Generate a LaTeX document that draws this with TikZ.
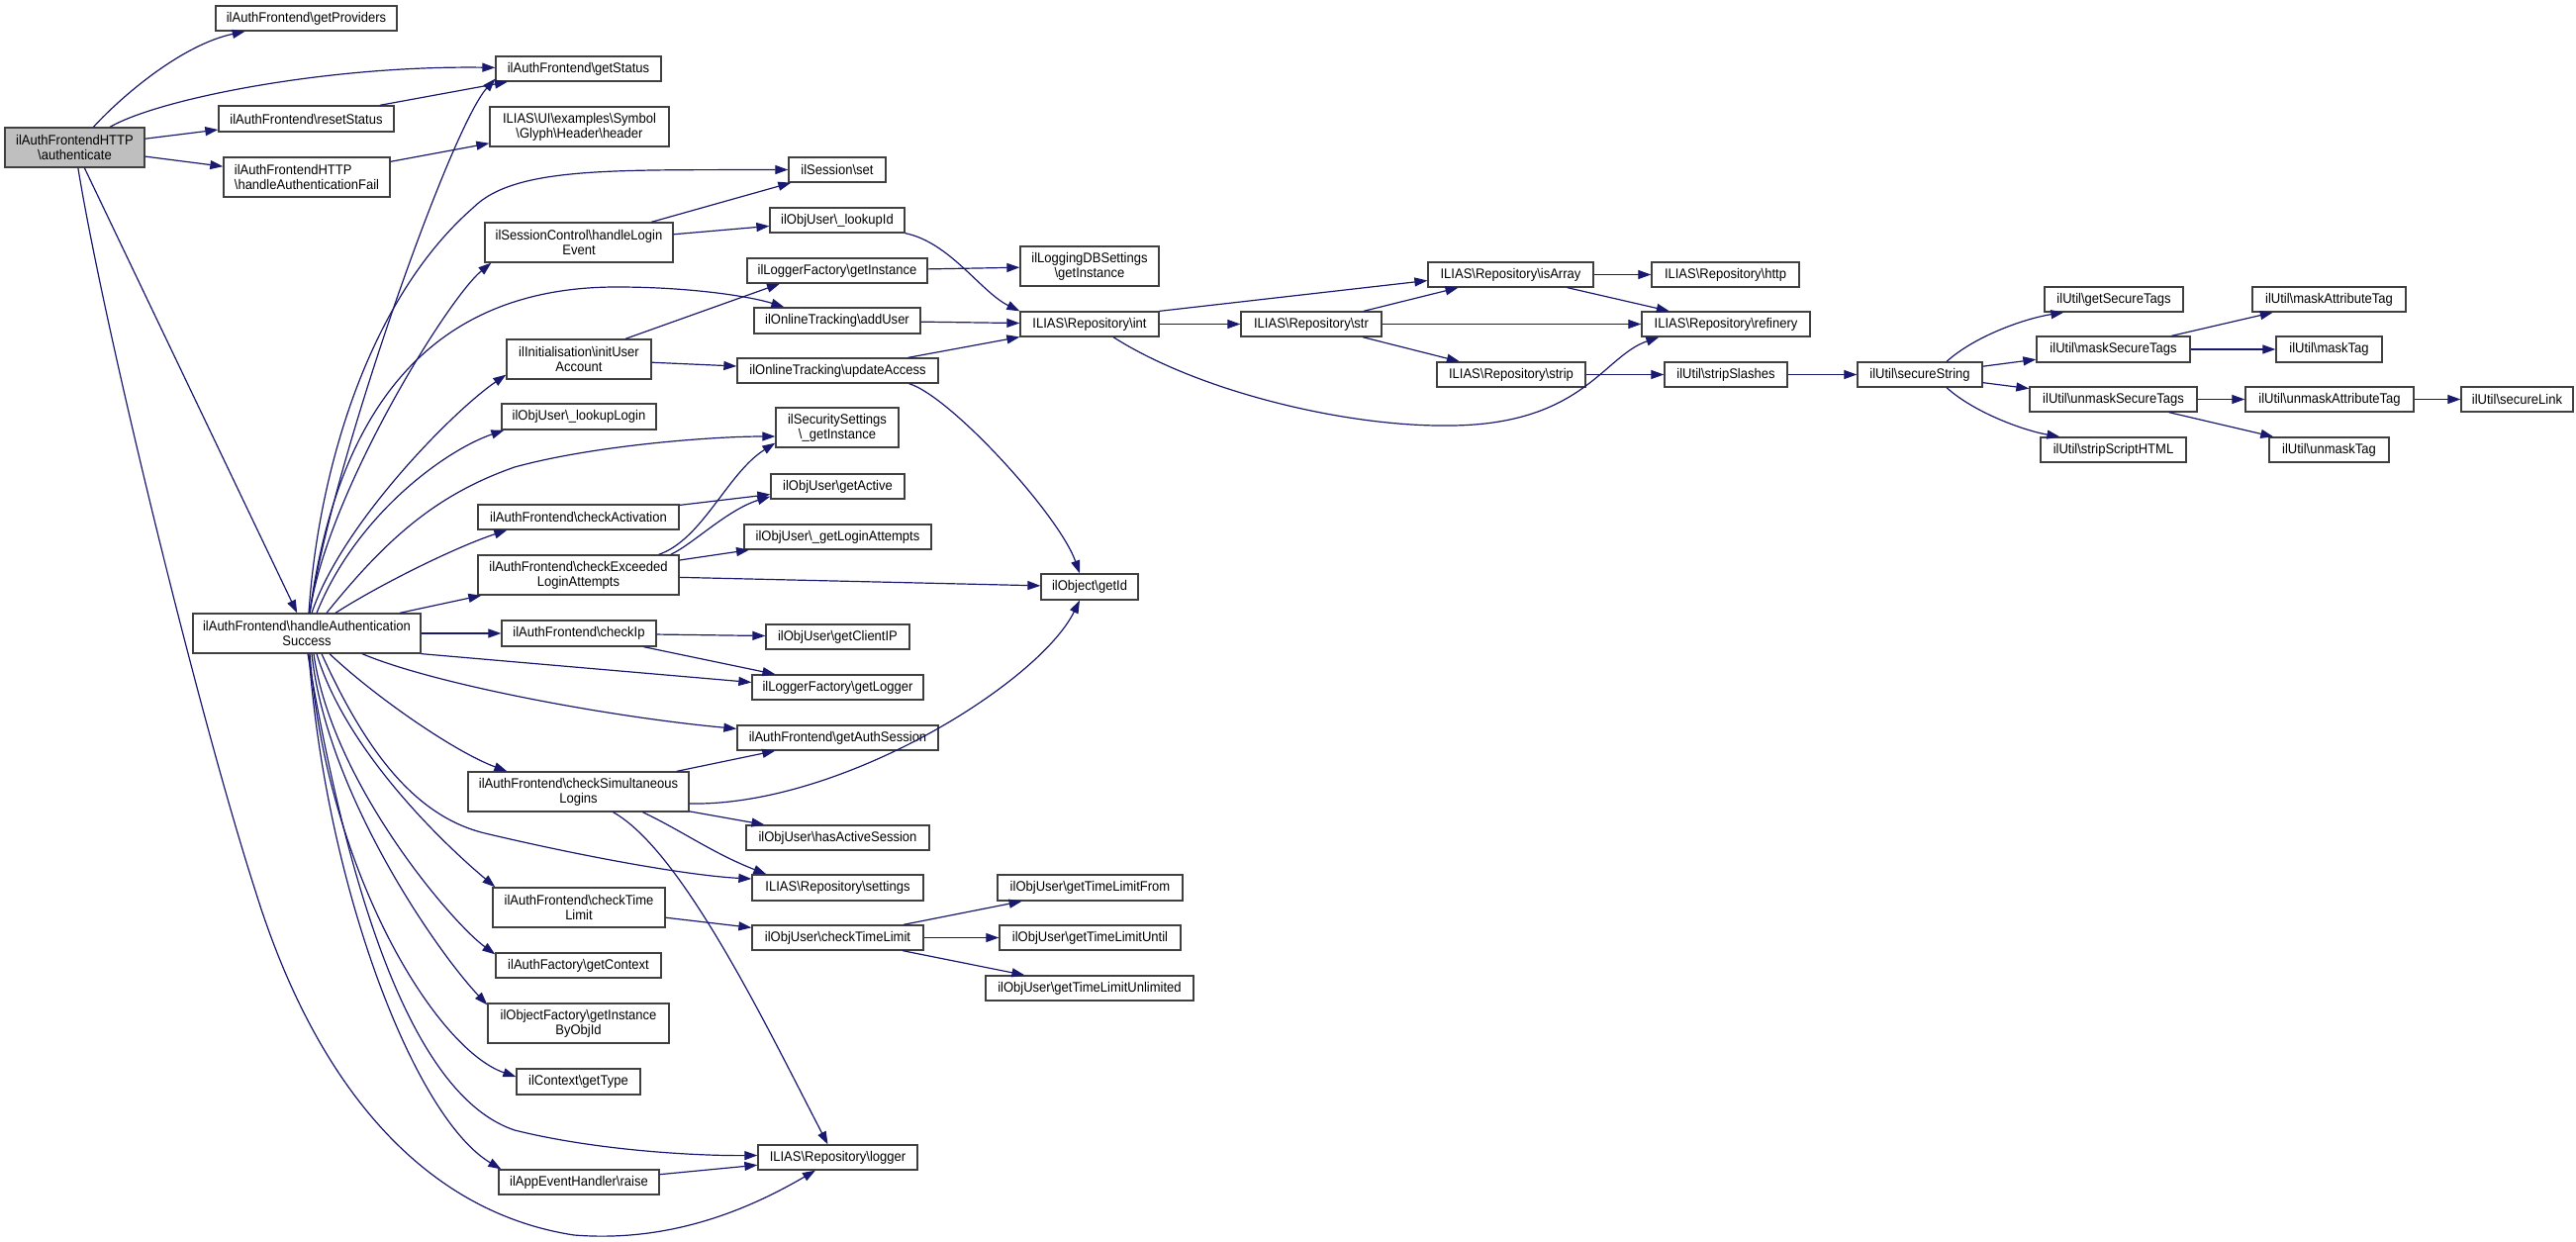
\documentclass[tikz,border=0pt]{standalone}
\usepackage{fontspec}
\newfontfamily\dfont{Liberation Sans}[FakeStretch=0.93]
\usetikzlibrary{arrows.meta}
\definecolor{mblue}{HTML}{191970}
\definecolor{agray}{HTML}{BFBFBF}
\newcommand\bsl{\textbackslash}
\newcommand\mkbox[7][]{\node[dbox,#1,minimum width={#5-#3},minimum height={#6-#4}] (#2) at ({(#3+#5)/2},{-(#4+#6)/2}) {#7};}
\tikzset{
  dbox/.style={draw=black!75, line width=1.3pt, fill=white, inner sep=0pt, align=center, text=black, font=\dfont\fontsize{14}{15}\selectfont},
  cn/.style={draw=mblue, line width=1.2pt, -{Triangle[length=13pt,width=9pt]}}
}
\begin{document}
\begin{tikzpicture}[x=1pt,y=1pt]
\path[use as bounding box, fill=white] (0,0) rectangle (2603,-1255);
\mkbox[fill=agray]{A}{5}{129}{146}{169}{ilAuthFrontendHTTP\\\bsl authenticate}
\mkbox{gp}{218}{6}{401}{31}{ilAuthFrontend\bsl getProviders}
\mkbox{gs}{501}{57}{668}{82}{ilAuthFrontend\bsl getStatus}
\mkbox{rs}{221}{107}{398}{133}{ilAuthFrontend\bsl resetStatus}
\mkbox{hdr}{495}{108}{676}{148}{ILIAS\bsl UI\bsl examples\bsl Symbol\\\bsl Glyph\bsl Header\bsl header}
\mkbox[align=left]{haf}{226}{159}{394}{199}{ilAuthFrontendHTTP\\\bsl handleAuthenticationFail}
\mkbox{hle}{490}{225}{680}{265}{ilSessionControl\bsl handleLogin\\Event}
\mkbox{iua}{512}{343}{658}{383}{ilInitialisation\bsl initUser\\Account}
\mkbox{llog}{507}{408}{663}{434}{ilObjUser\bsl\_lookupLogin}
\mkbox{ca}{483}{510}{686}{535}{ilAuthFrontend\bsl checkActivation}
\mkbox{ce}{483}{561}{686}{601}{ilAuthFrontend\bsl checkExceeded\\LoginAttempts}
\mkbox{has}{195}{620}{425}{660}{ilAuthFrontend\bsl handleAuthentication\\Success}
\mkbox{cip}{507}{627}{663}{653}{ilAuthFrontend\bsl checkIp}
\mkbox{csl}{473}{780}{696}{820}{ilAuthFrontend\bsl checkSimultaneous\\Logins}
\mkbox{ctl}{498}{897}{672}{937}{ilAuthFrontend\bsl checkTime\\Limit}
\mkbox{gctx}{501}{963}{668}{988}{ilAuthFactory\bsl getContext}
\mkbox{gibo}{493}{1014}{676}{1054}{ilObjectFactory\bsl getInstance\\ByObjId}
\mkbox{gtype}{522}{1080}{647}{1106}{ilContext\bsl getType}
\mkbox{raise}{504}{1182}{666}{1207}{ilAppEventHandler\bsl raise}
\mkbox{set}{797}{159}{895}{184}{ilSession\bsl set}
\mkbox{lid}{778}{210}{914}{235}{ilObjUser\bsl\_lookupId}
\mkbox{lfgi}{755}{261}{937}{286}{ilLoggerFactory\bsl getInstance}
\mkbox{ldbs}{1031}{249}{1171}{289}{ilLoggingDBSettings\\\bsl getInstance}
\mkbox{addu}{762}{311}{930}{337}{ilOnlineTracking\bsl addUser}
\mkbox{rint}{1031}{315}{1171}{340}{ILIAS\bsl Repository\bsl int}
\mkbox{upd}{745}{362}{948}{387}{ilOnlineTracking\bsl updateAccess}
\mkbox{secs}{784}{412}{908}{452}{ilSecuritySettings\\\bsl\_getInstance}
\mkbox{gact}{779}{479}{914}{504}{ilObjUser\bsl getActive}
\mkbox{gla}{752}{530}{941}{555}{ilObjUser\bsl\_getLoginAttempts}
\mkbox{gid}{1052}{580}{1150}{606}{ilObject\bsl getId}
\mkbox{gcip}{774}{631}{919}{656}{ilObjUser\bsl getClientIP}
\mkbox{glog}{760}{682}{933}{707}{ilLoggerFactory\bsl getLogger}
\mkbox{gas}{745}{733}{948}{758}{ilAuthFrontend\bsl getAuthSession}
\mkbox{hact}{754}{834}{939}{859}{ilObjUser\bsl hasActiveSession}
\mkbox{sett}{760}{884}{933}{910}{ILIAS\bsl Repository\bsl settings}
\mkbox{octl}{760}{935}{933}{960}{ilObjUser\bsl checkTimeLimit}
\mkbox{tlf}{1008}{884}{1195}{910}{ilObjUser\bsl getTimeLimitFrom}
\mkbox{tlu}{1010}{935}{1193}{960}{ilObjUser\bsl getTimeLimitUntil}
\mkbox{tlun}{996}{986}{1206}{1011}{ilObjUser\bsl getTimeLimitUnlimited}
\mkbox{logger}{766}{1157}{927}{1182}{ILIAS\bsl Repository\bsl logger}
\mkbox{rstr}{1254}{315}{1396}{340}{ILIAS\bsl Repository\bsl str}
\mkbox{isarr}{1443}{265}{1610}{290}{ILIAS\bsl Repository\bsl isArray}
\mkbox{http}{1669}{265}{1818}{290}{ILIAS\bsl Repository\bsl http}
\mkbox{refin}{1659}{315}{1829}{340}{ILIAS\bsl Repository\bsl refinery}
\mkbox{strip}{1452}{366}{1602}{391}{ILIAS\bsl Repository\bsl strip}
\mkbox{strsl}{1682}{366}{1806}{391}{ilUtil\bsl stripSlashes}
\mkbox{secstr}{1877}{366}{2003}{391}{ilUtil\bsl secureString}
\mkbox{gst}{2066}{290}{2206}{315}{ilUtil\bsl getSecureTags}
\mkbox{mst}{2058}{340}{2213}{366}{ilUtil\bsl maskSecureTags}
\mkbox{umst}{2051}{391}{2220}{416}{ilUtil\bsl unmaskSecureTags}
\mkbox{ssh}{2062}{442}{2209}{467}{ilUtil\bsl stripScriptHTML}
\mkbox{mat}{2276}{290}{2431}{315}{ilUtil\bsl maskAttributeTag}
\mkbox{mtag}{2300}{340}{2407}{366}{ilUtil\bsl maskTag}
\mkbox{umat}{2269}{391}{2439}{416}{ilUtil\bsl unmaskAttributeTag}
\mkbox{slink}{2487}{391}{2600}{416}{ilUtil\bsl secureLink}
\mkbox{umtag}{2293}{442}{2414}{467}{ilUtil\bsl unmaskTag}
% edges from authenticate
\draw[cn] (A) .. controls (125,-95) and (185,-45) .. (gp);
\draw[cn] (A) .. controls (160,-100) and (330,-66) .. (gs);
\draw[cn] (A) -- (rs);
\draw[cn] (A) -- (haf);
\draw[cn] (A) -- (has);
\draw[cn] (A) .. controls (105,-330) and (200,-720) .. (258,-900) .. controls (320,-1100) and (430,-1225) .. (580,-1248) .. controls (680,-1256) and (760,-1220) .. (logger);
\draw[cn] (rs) -- (gs);
\draw[cn] (haf) -- (hdr);
% edges from handleAuthenticationSuccess
\draw[cn] ([xshift=3pt]has.north) .. controls (335,-470) and (455,-130) .. ([yshift=3pt]gs.south west);
\draw[cn] ([xshift=2pt]has.north) .. controls (322,-470) and (375,-300) .. (478,-210) .. controls (520,-168) and (620,-172) .. (set.west);
\draw[cn] ([xshift=3pt]has.north) .. controls (330,-500) and (452,-302) .. ([xshift=7pt]hle.south west);
\draw[cn] ([xshift=3pt]has.north) .. controls (340,-420) and (430,-290) .. (623,-290) .. controls (700,-290) and (760,-300) .. ([xshift=31pt]addu.north west);
\draw[cn] ([xshift=5pt]has.north) .. controls (345,-530) and (457,-416) .. ([yshift=5pt]iua.south west);
\draw[cn] ([xshift=10pt]has.north) .. controls (360,-520) and (450,-455) .. ([xshift=3pt]llog.south west);
\draw[cn] ([xshift=20pt]has.north) .. controls (390,-545) and (440,-500) .. (520,-472) .. controls (600,-450) and (720,-441) .. ([yshift=-9pt]secs.west);
\draw[cn] ([xshift=29pt]has.north) .. controls (385,-590) and (460,-553) .. ([xshift=30pt]ca.south west);
\draw[cn] ([xshift=94pt]has.north) -- ([xshift=4pt]ce.south west);
\draw[cn] (has.east) -- (cip.west);
\draw[cn] (has.south east) -- ([yshift=5pt]glog.west);
\draw[cn] ([xshift=56pt]has.south) .. controls (440,-692) and (620,-725) .. ([yshift=-4pt]gas.north west);
\draw[cn] ([xshift=23pt]has.south) .. controls (380,-705) and (460,-760) .. ([xshift=40pt]csl.north west);
\draw[cn] ([xshift=15pt]has.south) .. controls (370,-760) and (420,-825) .. (490,-842) .. controls (600,-868) and (700,-885) .. ([yshift=9pt]sett.west);
\draw[cn] ([xshift=10pt]has.south) .. controls (350,-760) and (451,-855) .. ([xshift=3pt]ctl.north west);
\draw[cn] ([xshift=7pt]has.south) .. controls (335,-790) and (456,-932) .. ([yshift=-2pt]gctx.north west);
\draw[cn] ([xshift=5pt]has.south) .. controls (330,-800) and (440,-960) .. ([yshift=-2pt]gibo.north west);
\draw[cn] ([xshift=3pt]has.south) .. controls (330,-880) and (440,-1060) .. ([yshift=5pt]gtype.west);
\draw[cn] ([xshift=1pt]has.south) .. controls (360,-950) and (430,-1112) .. (520,-1142) .. controls (600,-1162) and (700,-1168) .. ([yshift=2pt]logger.west);
\draw[cn] ([xshift=2pt]has.south) .. controls (330,-900) and (420,-1130) .. ([xshift=3pt]raise.north west);
% second level
\draw[cn] (hle) -- (set);
\draw[cn] (hle) -- (lid);
\draw[cn] (lid.south east) .. controls (960,-245) and (991,-295) .. (rint.north west);
\draw[cn] ([xshift=47pt]iua.north) -- ([xshift=-58pt]lfgi.south);
\draw[cn] (iua) -- (upd);
\draw[cn] (lfgi) -- (ldbs);
\draw[cn] (addu) -- (rint);
\draw[cn] (upd) -- (rint);
\draw[cn] ([xshift=72pt]upd.south) .. controls (960,-400) and (1070,-520) .. ([xshift=-10pt]gid.north);
\draw[cn] (rint.north east) -- ([yshift=-6pt]isarr.west);
\draw[cn] (rint) -- (rstr);
\draw[cn] ([xshift=24pt]rint.south) .. controls (1210,-395) and (1360,-432) .. (1468,-430) .. controls (1600,-428) and (1620,-360) .. ([xshift=18pt]refin.south west);
\draw[cn] (rstr) -- (isarr);
\draw[cn] (rstr) -- (refin);
\draw[cn] (rstr) -- (strip);
\draw[cn] (isarr) -- (http);
\draw[cn] (isarr) -- (refin);
\draw[cn] (strip) -- (strsl);
\draw[cn] (strsl) -- (secstr);
\draw[cn] ([xshift=27pt]secstr.north) .. controls (1995,-340) and (2045,-322) .. ([xshift=20pt]gst.south west);
\draw[cn] (secstr) -- (mst);
\draw[cn] (secstr) -- (umst);
\draw[cn] ([xshift=27pt]secstr.south) .. controls (1995,-417) and (2045,-435) .. ([xshift=20pt]ssh.north west);
\draw[cn] (mst) -- (mat);
\draw[cn] (mst) -- (mtag);
\draw[cn] (umst) -- (umat);
\draw[cn] (umst) -- (umtag);
\draw[cn] (umat) -- (slink);
\draw[cn] ([xshift=-21pt]ce.north east) .. controls (710,-545) and (735,-478) .. ([yshift=5pt]secs.south west);
\draw[cn] ([xshift=-9pt]ce.north east) .. controls (700,-550) and (735,-515) .. ([yshift=3pt]gact.south west);
\draw[cn] (ce) -- (gla);
\draw[cn] (ce) -- (gid);
\draw[cn] (ca) -- (gact);
\draw[cn] (cip) -- (gcip);
\draw[cn] (cip) -- (glog);
\draw[cn] (csl) -- (gas);
\draw[cn] ([yshift=-12pt]csl.east) .. controls (850,-815) and (1050,-690) .. ([xshift=-10pt]gid.south);
\draw[cn] (csl) -- (hact);
\draw[cn] ([xshift=65pt]csl.south) .. controls (690,-840) and (720,-862) .. ([xshift=15pt]sett.north west);
\draw[cn] ([xshift=35pt]csl.south) .. controls (690,-860) and (776,-1040) .. ([xshift=-10pt]logger.north);
\draw[cn] (ctl) -- (octl);
\draw[cn] (octl) -- (tlf);
\draw[cn] (octl) -- (tlu);
\draw[cn] (octl) -- (tlun);
\draw[cn] (raise) -- (logger);
\end{tikzpicture}
\end{document}
